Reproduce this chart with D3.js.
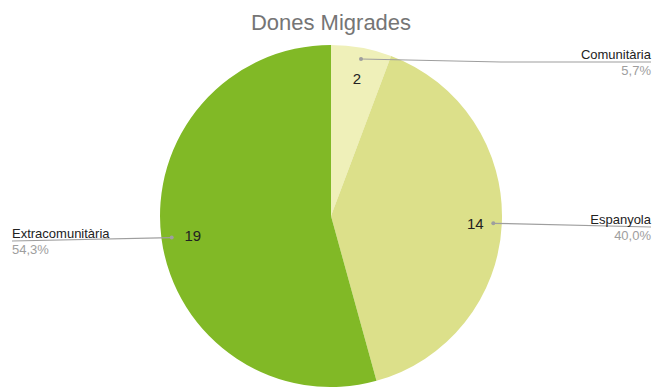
<!DOCTYPE html>
<html>
<head>
<meta charset="utf-8">
<script src="https://cdn.jsdelivr.net/npm/d3@7"></script>
<style>
  body { margin: 0; background: #fff; }
  text { font-family: "Liberation Sans", Arial, sans-serif; }
</style>
</head>
<body>
<svg id="chart" width="653" height="387"></svg>
<script>
var categories = ["Comunitària", "Espanyola", "Extracomunitària"];
var values = [2, 14, 19];
var percents = ["5,7%", "40,0%", "54,3%"];
var colors = ["#eff0b9", "#dce08a", "#81b926"];

var svg = d3.select("#chart"),
    width = +svg.attr("width"),
    height = +svg.attr("height");

var cx = 331, cy = 216, radius = 171;

svg.append("text")
    .attr("x", 331)
    .attr("y", 30)
    .attr("text-anchor", "middle")
    .attr("font-size", "22px")
    .attr("fill", "#757575")
    .text("Dones Migrades");

var data = categories.map(function(c, i) {
  return { name: c, value: values[i], percent: percents[i], color: colors[i] };
});

var pie = d3.pie()
    .sort(null)
    .value(function(d) { return d.value; });

var arc = d3.arc().innerRadius(0).outerRadius(radius);

var arcs = pie(data);

var g = svg.append("g").attr("transform", "translate(" + cx + "," + cy + ")");

g.selectAll("path")
  .data(arcs)
  .enter().append("path")
    .attr("d", arc)
    .attr("fill", function(d) { return d.data.color; });

var dotR = [0.93, 0.95, 0.94];

var leaders = [
  { side: "right", lineY: 62 - cy },
  { side: "right", lineY: 227 - cy },
  { side: "left",  lineY: 241 - cy }
];

arcs.forEach(function(d, i) {
  var dot = d3.arc().innerRadius(radius * dotR[i]).outerRadius(radius * dotR[i]).centroid(d);
  var L = leaders[i];
  var tx, ty;
  if (L.side === "right") {
    tx = dot[0] - 18; ty = dot[1];
  } else {
    tx = dot[0] + 21; ty = dot[1] - 2;
  }
  if (i === 0) { tx = 357 - cx; ty = 79 - cy; dot = [361 - cx, 59 - cy]; }

  g.append("text")
      .attr("x", tx)
      .attr("y", ty)
      .attr("dy", "0.35em")
      .attr("text-anchor", "middle")
      .attr("font-size", "15px")
      .attr("fill", "#222")
      .text(d.data.value);

  var endX = L.side === "right" ? width - 2 - cx : 12 - cx;
  var pts = i === 0
    ? [dot, [dot[0] + 140, L.lineY], [endX, L.lineY]]
    : [dot, [endX, L.lineY]];

  g.append("path")
      .attr("d", d3.line()(pts))
      .attr("fill", "none")
      .attr("stroke", "#9e9e9e")
      .attr("stroke-width", 1.2);

  g.append("circle")
      .attr("cx", dot[0])
      .attr("cy", dot[1])
      .attr("r", 2)
      .attr("fill", "#9e9e9e");

  var anchor = L.side === "right" ? "end" : "start";
  g.append("text")
      .attr("x", endX)
      .attr("y", L.lineY - 3)
      .attr("text-anchor", anchor)
      .attr("font-size", "13px")
      .attr("fill", "#222")
      .text(d.data.name);
  g.append("text")
      .attr("x", endX)
      .attr("y", L.lineY + 13)
      .attr("text-anchor", anchor)
      .attr("font-size", "13px")
      .attr("fill", "#9e9e9e")
      .text(d.data.percent);
});
</script>
</body>
</html>
